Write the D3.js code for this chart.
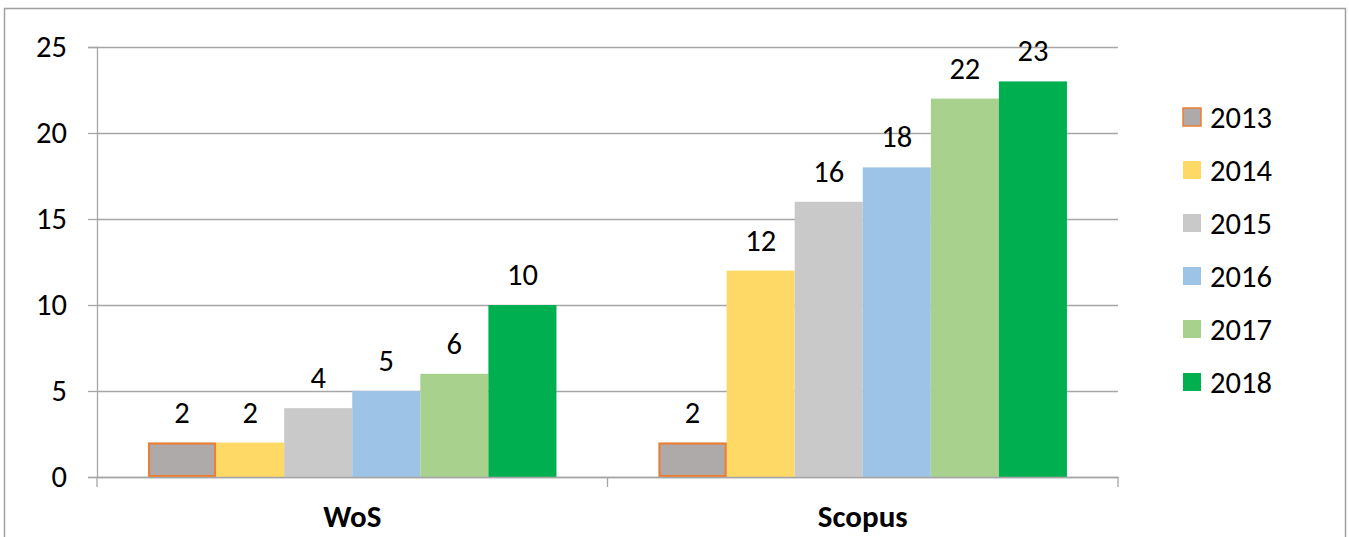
<!DOCTYPE html>
<html>
<head>
<meta charset="utf-8">
<script src="https://cdn.jsdelivr.net/npm/d3@7"></script>
<style>
  html, body { margin: 0; padding: 0; background: #fff; }
  svg { display: block; font-family: Carlito, Calibri, Lato, "Open Sans", sans-serif; }
</style>
</head>
<body>
<svg id="chart" width="1349" height="537"></svg>
<script>
const categories = ["WoS", "Scopus"];
const years = ["2013", "2014", "2015", "2016", "2017", "2018"];
const wosValues = [2, 2, 4, 5, 6, 10];
const scopusValues = [2, 12, 16, 18, 22, 23];
const yTicks = [0, 5, 10, 15, 20, 25];
const colors = ["#AEAAAA", "#FFD966", "#C9C9C9", "#9DC3E6", "#A9D18E", "#00B050"];

const seriesByCategory = { "WoS": wosValues, "Scopus": scopusValues };

const svg = d3.select("#chart");
const plot = { left: 97, right: 1118, top: 47, bottom: 477 };
const gridColor = "#A6A6A6";
const fontSize = 30.5;

// outer chart border
svg.append("rect")
  .attr("x", 4.5).attr("y", 8.5)
  .attr("width", 1341).attr("height", 540)
  .attr("fill", "#fff").attr("stroke", "#A0A0A0").attr("stroke-width", 1.5);

const x0 = d3.scaleBand().domain(categories).range([plot.left, plot.right]).padding(0);
const bw = x0.bandwidth();
const x1 = d3.scaleBand().domain(years).range([bw * 0.1, bw * 0.9]).padding(0);
const y = d3.scaleLinear().domain([0, 25]).range([plot.bottom, plot.top]);

// gridlines
const grid = svg.append("g").attr("transform", `translate(${plot.left},0)`)
  .call(d3.axisLeft(y).tickValues(yTicks).tickSize(-(plot.right - plot.left)).tickFormat(""));
grid.select(".domain").remove();
grid.selectAll("line").attr("stroke", gridColor).attr("stroke-width", 1.3);

// bars
const groups = svg.append("g").selectAll("g")
  .data(categories).join("g")
  .attr("transform", d => `translate(${x0(d)},0)`);

groups.selectAll("rect")
  .data(c => seriesByCategory[c].map((v, i) => ({ year: years[i], value: v, i })))
  .join("rect")
  .attr("x", d => x1(d.year))
  .attr("y", d => y(d.value))
  .attr("width", x1.bandwidth())
  .attr("height", d => y(0) - y(d.value))
  .attr("fill", d => colors[d.i]);

// 2013 bars orange border
groups.selectAll("rect.b13")
  .data(c => [{ year: years[0], value: seriesByCategory[c][0] }])
  .join("rect").attr("class", "b13")
  .attr("x", d => x1(d.year) + 1)
  .attr("y", d => y(d.value) + 1)
  .attr("width", x1.bandwidth() - 2)
  .attr("height", d => y(0) - y(d.value) - 2)
  .attr("fill", "none").attr("stroke", "#ED7D31").attr("stroke-width", 2);

// value labels
groups.selectAll("text.val")
  .data(c => seriesByCategory[c].map((v, i) => ({ year: years[i], value: v })))
  .join("text").attr("class", "val")
  .attr("x", d => x1(d.year) + x1.bandwidth() / 2)
  .attr("y", d => y(d.value) - 20)
  .attr("text-anchor", "middle")
  .attr("font-size", fontSize)
  .attr("fill", "#000")
  .text(d => d.value);

// y axis
const yAxis = svg.append("g").attr("transform", `translate(${plot.left},0)`)
  .call(d3.axisLeft(y).tickValues(yTicks).tickSize(9).tickPadding(21));
yAxis.select(".domain").attr("stroke", gridColor).attr("stroke-width", 1.3);
yAxis.selectAll(".tick line").attr("stroke", gridColor).attr("stroke-width", 1.3);
yAxis.selectAll(".tick text").attr("font-size", fontSize).attr("fill", "#000")
  .attr("font-family", "Carlito, Calibri, Lato, sans-serif");

// x axis
const xAxis = svg.append("g").attr("transform", `translate(0,${plot.bottom})`)
  .call(d3.axisBottom(x0).tickSize(0).tickPadding(0));
xAxis.select(".domain").attr("stroke", gridColor).attr("stroke-width", 1.3);
xAxis.selectAll(".tick text")
  .attr("font-size", 31).attr("font-weight", "bold").attr("fill", "#000")
  .attr("font-family", "Carlito, Calibri, Lato, sans-serif")
  .attr("dy", null).attr("y", 50);

// category boundary ticks
const bounds = categories.map(c => x0(c)).concat([x0(categories[categories.length - 1]) + bw]);
svg.append("g").selectAll("line").data(bounds).join("line")
  .attr("x1", d => d).attr("x2", d => d)
  .attr("y1", plot.bottom).attr("y2", plot.bottom + 10)
  .attr("stroke", gridColor).attr("stroke-width", 1.3);

// legend
const legend = svg.append("g").attr("transform", "translate(1183,117)");
const li = legend.selectAll("g").data(years).join("g")
  .attr("transform", (d, i) => `translate(0,${i * 53})`);
li.append("rect")
  .attr("x", 0).attr("y", -9).attr("width", 18).attr("height", 18)
  .attr("fill", (d, i) => colors[i])
  .attr("stroke", (d, i) => i === 0 ? "#ED7D31" : "none")
  .attr("stroke-width", 1.5);
li.append("text")
  .attr("x", 27).attr("y", 0).attr("dy", "0.35em")
  .attr("font-size", fontSize).attr("fill", "#000")
  .text(d => d);
</script>
</body>
</html>
